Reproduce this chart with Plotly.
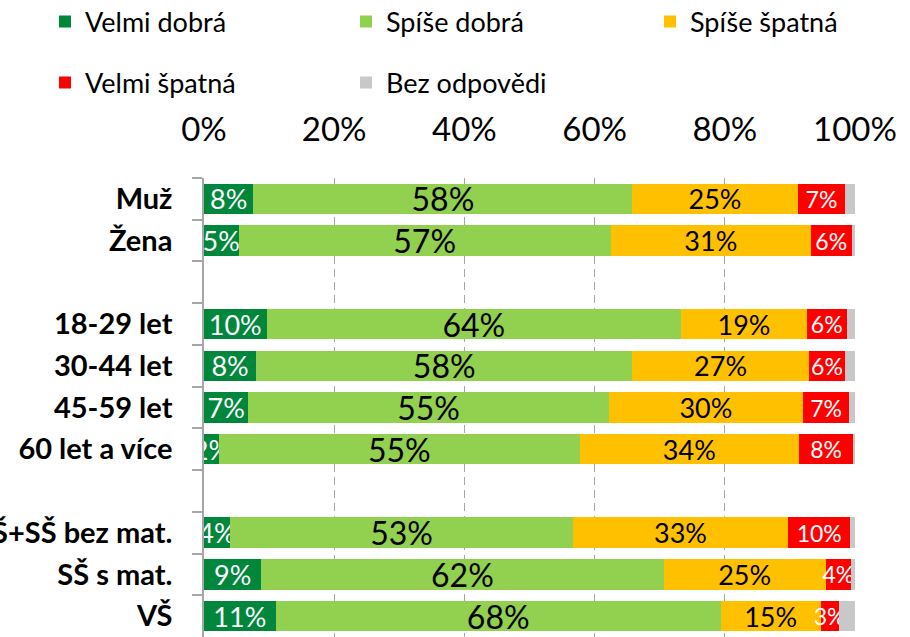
import plotly.graph_objects as go

categories = ["Muž", "Žena", " ", "18-29 let", "30-44 let", "45-59 let",
              "60 let a více", "  ", "ZŠ+SŠ bez mat.", "SŠ s mat.", "VŠ"]

velmi_dobra   = [7.6, 5.3, None, 9.6, 8.0, 6.8, 2.3, None, 4.0, 8.8, 11.0]
spise_dobra   = [58.2, 57.2, None, 63.7, 57.8, 55.4, 55.4, None, 52.7, 61.8, 68.4]
spise_spatna  = [25.4, 30.7, None, 19.3, 27.1, 29.8, 33.7, None, 33.0, 24.9, 15.3]
velmi_spatna  = [7.3, 6.3, None, 6.1, 5.6, 7.1, 8.3, None, 9.6, 3.9, 2.8]
bez_odpovedi  = [1.5, 0.5, None, 1.3, 1.5, 0.9, 0.3, None, 0.7, 0.6, 2.5]

series_names = ["Velmi dobrá", "Spíše dobrá", "Spíše špatná", "Velmi špatná", "Bez odpovědi"]
tick_vals = [0, 20, 40, 60, 80, 100]
tick_text = ["0%", "20%", "40%", "60%", "80%", "100%"]

FONT = "Lato, Carlito, Calibri, sans-serif"

series = [
    (series_names[0], velmi_dobra, "#00873C", "white", 27),
    (series_names[1], spise_dobra, "#92D050", "black", 32),
    (series_names[2], spise_spatna, "#FFC000", "black", 27),
    (series_names[3], velmi_spatna, "#FF0000", "white", 23),
    (series_names[4], bez_odpovedi, "#C8C8C8", "black", 20),
]

legend_pos = [(45, 22), (346, 22), (650, 22), (45, 83), (346, 83)]

fig = go.Figure()
for i, (name, vals, color, tcolor, tsize) in enumerate(series):
    lg = "legend" if i == 0 else f"legend{i+1}"
    fig.add_trace(go.Bar(
        y=categories, x=vals, name=name, orientation="h",
        marker=dict(color=color, line=dict(width=0)),
        texttemplate="%{x:.0f}%" if i < 4 else "",
        textposition="inside", insidetextanchor="middle",
        constraintext="none", textangle=0,
        textfont=dict(family=FONT, size=tsize, color=tcolor),
        cliponaxis=True,
        legend=lg,
        showlegend=True,
    ))

W, H = 910, 637
layout_legends = {}
for i, (lx, ly) in enumerate(legend_pos):
    key = "legend" if i == 0 else f"legend{i+1}"
    layout_legends[key] = dict(
        xref="container", yref="container",
        x=lx / W, y=1 - ly / H, xanchor="left", yanchor="middle",
        orientation="h", bgcolor="rgba(0,0,0,0)", borderwidth=0,
        font=dict(family=FONT, size=27, color="black"),
    )

fig.update_layout(
    width=W, height=H,
    barmode="stack", bargap=0.27,
    plot_bgcolor="white", paper_bgcolor="white",
    margin=dict(l=204, r=55, t=178, b=0, autoexpand=False),
    xaxis=dict(
        side="top", range=[0, 100], tickvals=tick_vals, ticktext=tick_text,
        showgrid=True, gridcolor="#A6A6A6", griddash="8px,5px", gridwidth=1.2,
        zeroline=False, showline=False, ticks="",
        tickfont=dict(family=FONT, size=33, color="black"),
        ticklabelstandoff=29, automargin=False, fixedrange=True,
    ),
    yaxis=dict(
        autorange="reversed", type="category",
        showline=True, linecolor="#A6A6A6", linewidth=1.5,
        ticks="outside", tickson="boundaries", ticklen=10, tickcolor="#A6A6A6", tickwidth=1.5,
        tickfont=dict(family=FONT, size=29, color="black", weight="bold"),
        ticklabelstandoff=24, automargin=False, showgrid=False, fixedrange=True,
    ),
    showlegend=True,
    **layout_legends,
)

fig.write_html("out.html", config={"displayModeBar": False},
               post_script="document.body.style.margin='0';")
